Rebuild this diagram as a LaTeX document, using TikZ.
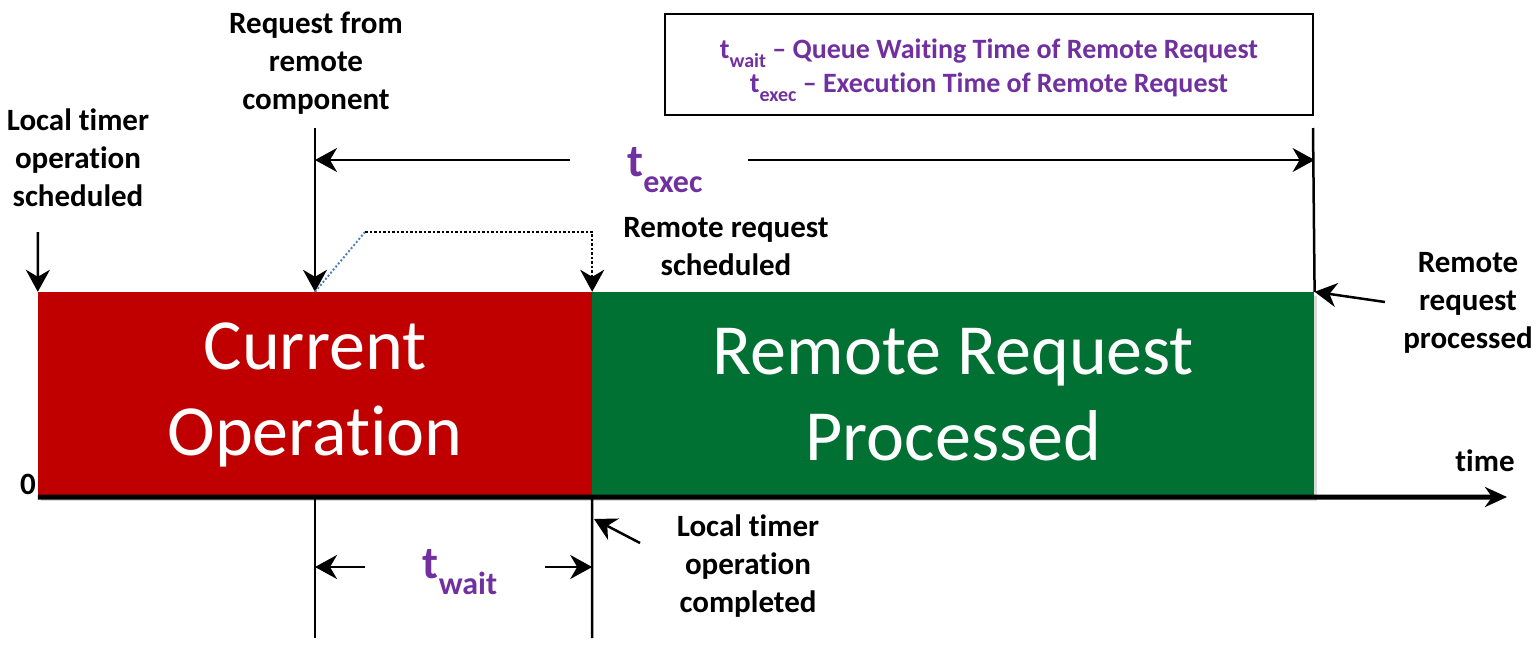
\documentclass[tikz,border=0pt]{standalone}
\usepackage{fontspec}
\setmainfont{Carlito}[Ligatures=NoCommon]
\usetikzlibrary{arrows.meta,positioning,shadows}
\definecolor{opred}{HTML}{C00000}
\definecolor{opgreen}{HTML}{007033}
\definecolor{tpurple}{HTML}{7030A0}
\definecolor{linkblue}{HTML}{4F81BD}
\tikzset{
  block/.style  ={fill=#1,draw=none,minimum height=205pt,inner sep=0pt,text=white,align=center,
                  font=\fontsize{72}{86}\selectfont,
                  drop shadow={shadow xshift=3pt,shadow yshift=-4pt,opacity=0.15,fill=black}},
  lbl/.style    ={font=\bfseries\fontsize{31}{38}\selectfont,align=center,inner sep=0pt},
  tick/.style   ={line width=2.5pt},
  ptr/.style    ={-{Stealth[length=22pt,width=24pt,inset=7pt]},line width=2.5pt},
  axis/.style   ={-{Stealth[length=22pt,width=20pt,inset=7pt]},line width=5pt},
  tsym/.style   ={text=tpurple,font=\bfseries\fontsize{46}{46}\selectfont,inner sep=0pt},
}
\newcommand{\tsub}[2]{t\raisebox{-0.35em}{\fontsize{#2}{#2}\selectfont #1}}

\begin{document}
\begin{tikzpicture}[x=1pt,y=-1pt]
  \useasboundingbox (0,0) rectangle (1539,645);
  % the two blocks on the time line
  \node[block=opred,minimum width=554pt] (curop) at (315,394.5) {Current\\Operation};
  \node[block=opgreen,minimum width=722pt,right=0pt of curop] (remop) {Remote Request\\Processed};
  % time axis
  \coordinate (tend) at (1507,497);
  \draw[axis] (curop.south west) -- (tend);
  \node[lbl] (zero) at (28,484) {0};
  \node[lbl] (timelbl) at (1485,461) {time};
  % legend
  \node[draw,line width=1.5pt,minimum width=648pt,minimum height=101pt,text=tpurple,
        font=\bfseries\fontsize{28}{34}\selectfont,align=center] (legend) at (989,64.5)
        {\rule{0pt}{31pt}\tsub{wait}{20} -- Queue Waiting Time of Remote Request\\
         \tsub{exec}{20} -- Execution Time of Remote Request};
  % labels above
  \node[lbl] (localsched) at (78,158) {Local timer\\operation\\scheduled};
  \node[lbl] (reqlbl) at (316,63) {Request from\\remote\\component};
  \node[lbl] (remsched) at (726,247) {Remote request\\scheduled};
  \node[lbl] (remproc) at (1468,303) {Remote\\request\\processed};
  \node[lbl] (localdone) at (748,566) {Local timer\\operation\\completed};
  % arrows into the blocks
  \coordinate (schedtop) at (38,232);
  \draw[ptr] (schedtop) -- (curop.north west);
  \coordinate (reqtop) at (315,128);
  \draw[ptr] (reqtop) -- (curop.north);
  \coordinate (exectop) at (1313,128);
  \draw[tick] (exectop) -- (remop.north east);
  \coordinate (procpt) at (1385,302);
  \draw[ptr] (procpt) -- (remop.north east);
  % request handed over to the queue
  \coordinate (bend) at (365,232);
  \draw[linkblue,dotted,line width=2pt] (curop.north) -- (bend);
  \draw[ptr,dotted] (bend) -| (remop.north west);
  % execution span
  \node[tsym] (texec) at (665,170) {\tsub{exec}{32}};
  \coordinate (execL) at (570,160);
  \coordinate (execR) at (748,160);
  \draw[ptr] (execL) -- (execL -| curop.north);
  \draw[ptr] (execR) -- (execR -| remop.north east);
  % waiting span
  \coordinate (waitbotL) at (315,638);
  \coordinate (waitbotR) at (592,638);
  \draw[tick] (curop.south) -- (waitbotL);
  \draw[tick] (remop.south west) -- (waitbotR);
  \node[tsym] (twait) at (460,572) {\tsub{wait}{32}};
  \coordinate (waitL) at (365,567);
  \coordinate (waitR) at (545,567);
  \draw[ptr] (waitL) -- (waitL -| curop.south);
  \draw[ptr] (waitR) -- (waitR -| remop.south west);
  % local timer done
  \coordinate (donept) at (640,543);
  \coordinate (donetip) at (594,519);
  \draw[ptr] (donept) -- (donetip);
\end{tikzpicture}
\end{document}
